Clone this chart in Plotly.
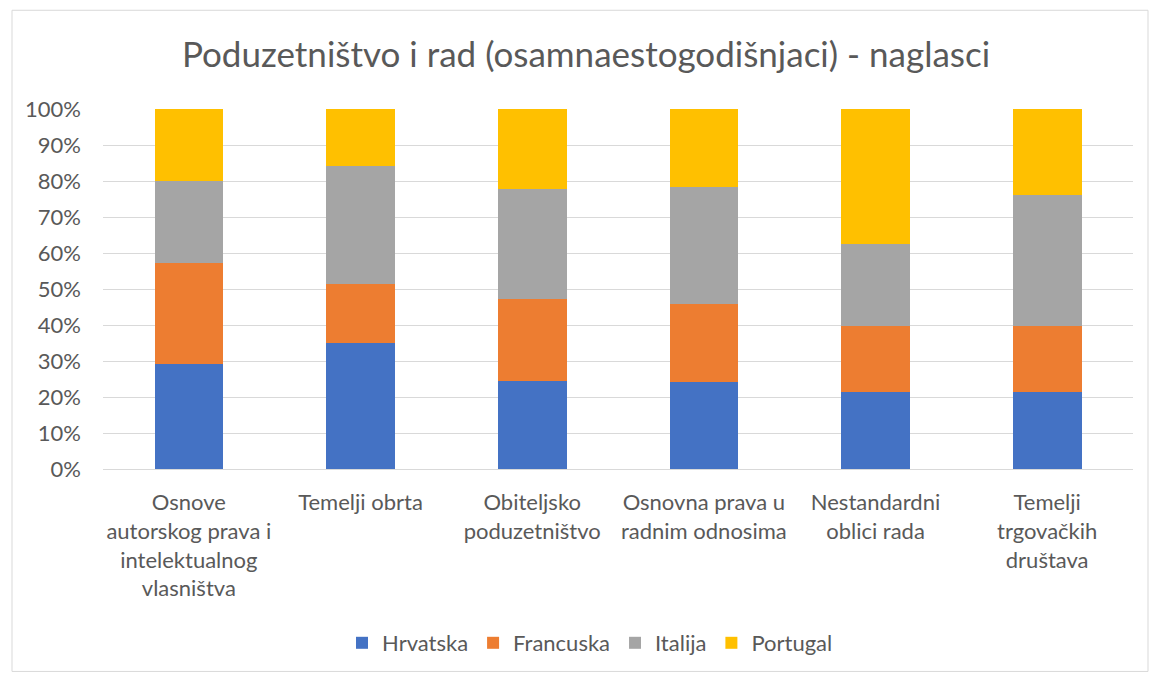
import plotly.graph_objects as go

categories = [
    "Osnove<br>autorskog prava i<br>intelektualnog<br>vlasništva",
    "Temelji obrta",
    "Obiteljsko<br>poduzetništvo",
    "Osnovna prava u<br>radnim odnosima",
    "Nestandardni<br>oblici rada",
    "Temelji<br>trgovačkih<br>društava",
]
hrvatska = [29.2, 35.1, 24.5, 24.3, 21.3, 21.3]
francuska = [28.0, 16.4, 22.7, 21.6, 18.5, 18.3]
italija = [22.7, 32.6, 30.5, 32.4, 22.7, 36.6]
portugal = [20.1, 15.9, 22.3, 21.7, 37.5, 23.8]

y_tickvals = [0, 10, 20, 30, 40, 50, 60, 70, 80, 90, 100]
y_ticktext = ["0%", "10%", "20%", "30%", "40%", "50%", "60%", "70%", "80%", "90%", "100%"]

series = [
    ("Hrvatska", hrvatska, "#4472C4"),
    ("Francuska", francuska, "#ED7D31"),
    ("Italija", italija, "#A5A5A5"),
    ("Portugal", portugal, "#FFC000"),
]

FONT = "Lato"
GREY = "#595959"
FS = 22

fig = go.Figure()
for name, vals, col in series:
    fig.add_trace(go.Bar(
        x=categories, y=vals, name=name,
        marker=dict(color=col, line=dict(width=0)),
    ))

L, R, T, B = 103, 18, 109, 205
W, H = 1151, 675
pw = W - L - R
ph = H - T - B

def px_x(x):
    return (x - L) / pw

def px_y(y):
    return (H - B - y) / ph

fig.update_layout(
    barmode="stack",
    barnorm="percent",
    bargap=0.6,
    width=W, height=H,
    margin=dict(l=L, r=R, t=T, b=B),
    paper_bgcolor="white",
    plot_bgcolor="white",
    font=dict(family=FONT, color=GREY, size=FS),
    title=dict(
        text="Poduzetništvo i rad (osamnaestogodišnjaci) - naglasci",
        x=px_x(586), xref="paper", xanchor="center",
        y=1 - 55 / H, yref="container", yanchor="middle",
        font=dict(family=FONT, size=35, color=GREY),
    ),
    yaxis=dict(
        range=[0, 100],
        tickvals=y_tickvals, ticktext=y_ticktext,
        showgrid=True, gridcolor="#D9D9D9", gridwidth=1,
        zeroline=False, showline=False,
        ticks="", tickfont=dict(size=FS, color=GREY),
        ticklabelstandoff=21,
    ),
    xaxis=dict(
        showgrid=False, showline=True, linecolor="#D9D9D9", linewidth=1,
        ticks="", tickfont=dict(size=FS, color=GREY), tickangle=0,
        ticklabelstandoff=14,
    ),
    legend=dict(
        orientation="h", x=px_x(590), xanchor="center",
        y=px_y(643), yanchor="middle",
        font=dict(size=FS, color=GREY),
        traceorder="normal",
    ),
    shapes=[dict(
        type="rect", xref="paper", yref="paper",
        x0=px_x(12), x1=px_x(1148), y0=px_y(673), y1=px_y(10),
        line=dict(color="#D9D9D9", width=1), fillcolor="rgba(0,0,0,0)",
        layer="below",
    )],
)

fig.write_html(
    "out.html",
    config={"displayModeBar": False},
    post_script="document.body.style.margin='0';",
)
